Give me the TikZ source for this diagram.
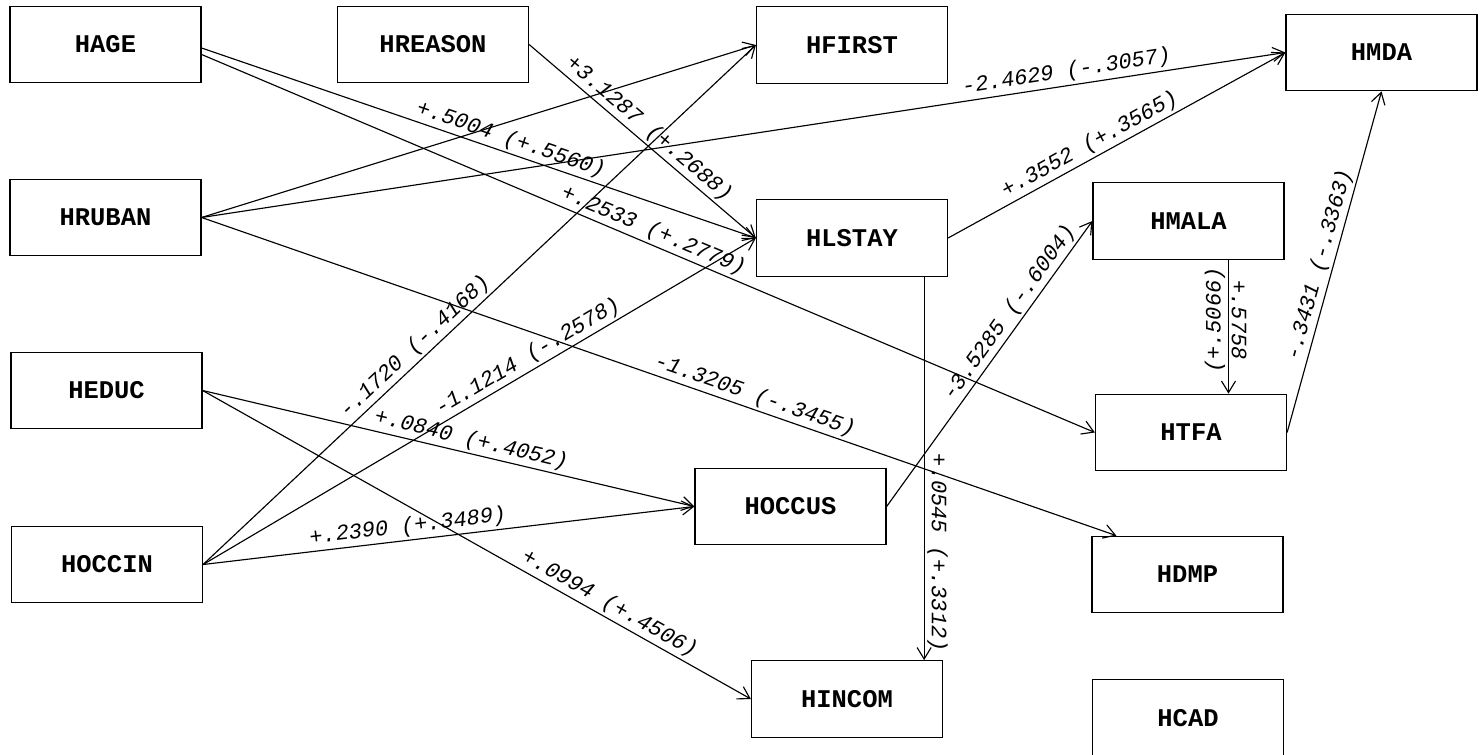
\documentclass[tikz,border=0pt]{standalone}
\usepackage{fontspec}
\setmonofont{Liberation Mono}
\usetikzlibrary{arrows.meta}

\begin{document}
\begin{tikzpicture}[
  >={Straight Barb[length=2.3mm,width=2.8mm]},
  var/.style={draw, line width=.7pt, minimum width=3.82cm, minimum height=1.53cm,
    font=\ttfamily\bfseries\fontsize{14.5}{14.5}\selectfont},
  path/.style={->, line width=.65pt},
  lab/.style={sloped, above, inner sep=1.5pt,
    font=\ttfamily\itshape\fontsize{12.5}{12.5}\selectfont}]
\useasboundingbox (0,0) rectangle (29.66,-15.10);
% variables
\node[var] (hage) at (2.11,-0.89) {HAGE};
\node[var] (hreason) at (8.66,-0.89) {HREASON};
\node[var] (hfirst) at (17.04,-0.90) {HFIRST};
\node[var] (hmda) at (27.63,-1.05) {HMDA};
\node[var] (hruban) at (2.11,-4.35) {HRUBAN};
\node[var] (hlstay) at (17.04,-4.76) {HLSTAY};
\node[var] (hmala) at (23.77,-4.42) {HMALA};
\node[var] (heduc) at (2.13,-7.81) {HEDUC};
\node[var] (htfa) at (23.82,-8.65) {HTFA};
\node[var] (hoccus) at (15.81,-10.13) {HOCCUS};
\node[var] (hoccin) at (2.14,-11.29) {HOCCIN};
\node[var] (hdmp) at (23.75,-11.49) {HDMP};
\node[var] (hincom) at (16.94,-13.98) {HINCOM};
\node[var] (hcad) at (23.76,-14.36) {HCAD};
% paths
\draw[path] ([yshift=-.07cm]hage.east) -- (hlstay.west)
  node[lab,pos=.55] {+.5004 (+.5560)};
\draw[path] ([yshift=-.2cm]hage.east) -- (htfa.west)
  node[lab,pos=.5] {+.2533 (+.2779)};
\draw[path] (hreason.east) -- (hlstay.west)
  node[lab,pos=.49] {+3.1287 (+.2688)};
\draw[path] (hruban.east) -- (hfirst.west);
\draw[path] (hruban.east) -- (hmda.west)
  node[lab,pos=.8] {-2.4629 (-.3057)};
\draw[path] (hruban.east) -- ([xshift=.5cm]hdmp.north west)
  node[lab,pos=.6] {-1.3205 (-.3455)};
\draw[path] (heduc.east) -- (hoccus.west)
  node[lab,pos=.54] {+.0840 (+.4052)};
\draw[path] (heduc.east) -- (hincom.west)
  node[lab,pos=.73] {+.0994 (+.4506)};
\draw[path] (hoccin.east) -- (hfirst.west)
  node[lab,pos=.4] {-.1720 (-.4168)};
\draw[path] (hoccin.east) -- (hlstay.west)
  node[lab,pos=.6] {-1.1214 (-.2578)};
\draw[path] (hoccin.east) -- (hoccus.west)
  node[lab,pos=.42] {+.2390 (+.3489)};
\draw[path] (hlstay.east) -- (hmda.west)
  node[lab,pos=.44] {+.3552 (+.3565)};
\draw[path] ([xshift=-.48cm]hlstay.south east) -- ([xshift=-.48cm]hlstay.south east |- hincom.north)
  node[lab,pos=.72,rotate=-90,sloped=false,anchor=south] {+.0545 (+.3312)};
\draw[path] (hoccus.east) -- (hmala.west)
  node[lab,pos=.65] {-3.5285 (-.6004)};
\draw[path] ([xshift=.8cm]hmala.south) -- ([xshift=.8cm]hmala.south |- htfa.north)
  node[lab,pos=.45,rotate=-90,sloped=false,anchor=south] {+.5758}
  node[lab,pos=.45,rotate=90,sloped=false,anchor=south] {(+.5066)};
\draw[path] (htfa.east) -- (hmda.south)
  node[lab,pos=.48] {-.3431 (-.3363)};
\end{tikzpicture}
\end{document}
